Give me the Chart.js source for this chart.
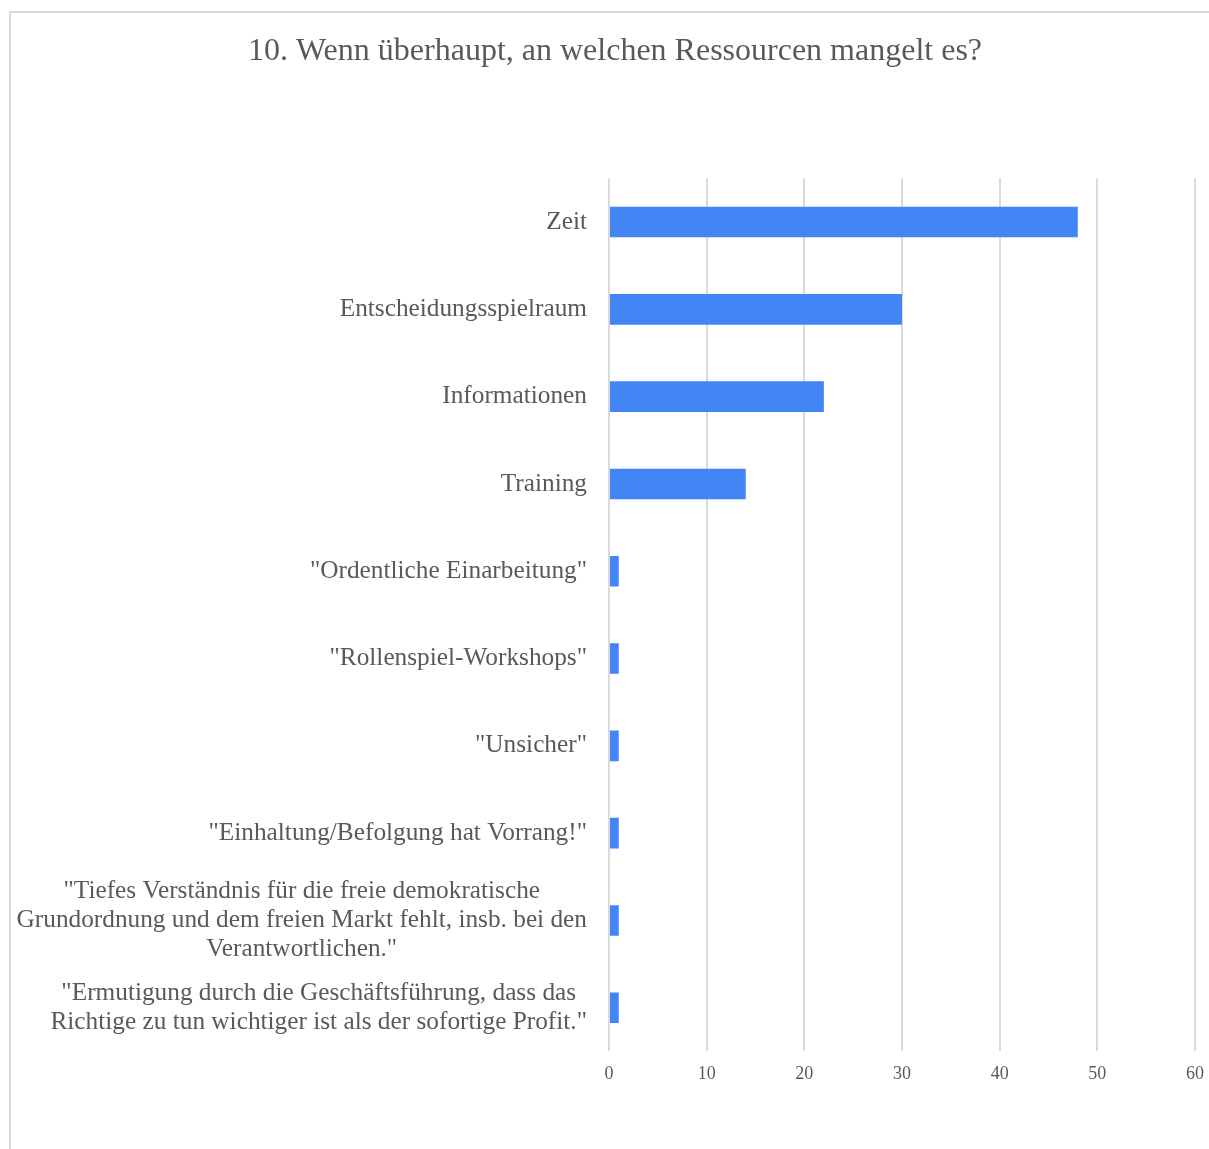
<!DOCTYPE html>
<html lang="de">
<head>
<meta charset="utf-8">
<title>Ressourcen</title>
<script src="https://cdn.jsdelivr.net/npm/chart.js@4/dist/chart.umd.min.js"></script>
<style>
    body { margin: 0; overflow: hidden; background: #fff; }
    #rahmen {
        position: absolute; left: 9px; top: 11px;
        width: 1300px; height: 1300px;
        border: 2px solid #dadada;
    }
    #grafik { position: absolute; left: 0; top: 0; }
</style>
</head>
<body>
<div id="rahmen"></div>
<canvas id="grafik" width="1230" height="1149"></canvas>

<script>
// ============================
// DATEN
// ============================

const titel = "10. Wenn überhaupt, an welchen Ressourcen mangelt es?";

const kategorien = [
    ["Zeit"],
    ["Entscheidungsspielraum"],
    ["Informationen"],
    ["Training"],
    ["\"Ordentliche Einarbeitung\""],
    ["\"Rollenspiel-Workshops\""],
    ["\"Unsicher\""],
    ["\"Einhaltung/Befolgung hat Vorrang!\""],
    ["\"Tiefes Verständnis für die freie demokratische",
     "Grundordnung und dem freien Markt fehlt, insb. bei den",
     "Verantwortlichen.\""],
    ["\"Ermutigung durch die Geschäftsführung, dass das",
     "Richtige zu tun wichtiger ist als der sofortige Profit.\""]
];

const anzahl = [48, 30, 22, 14, 1, 1, 1, 1, 1, 1];

const achseMin = 0;
const achseMax = 60;
const achseSchritt = 10;

const schrift = '"Liberation Serif", "Times New Roman", serif';
const textFarbe = "#595959";


// ============================
// ACHSENBESCHRIFTUNG (mehrzeilig, rechtsbündig als Block)
// ============================

const etikettenPlugin = {
    id: "etiketten",
    afterDraw(chart) {
        const ctx = chart.ctx;
        const skala = chart.scales.y;
        const abstand = 22;
        const zeilenHoehe = 29;

        ctx.save();
        ctx.font = "25.3px " + schrift;
        ctx.fillStyle = textFarbe;
        ctx.textAlign = "center";
        ctx.textBaseline = "middle";

        chart.data.labels.forEach((etikett, i) => {
            const zeilen = Array.isArray(etikett) ? etikett : [etikett];
            const breite = Math.max(...zeilen.map(z => ctx.measureText(z).width));
            const mitteX = skala.right - abstand - breite / 2;
            const mitteY = skala.getPixelForTick(i);

            zeilen.forEach((z, j) => {
                ctx.fillText(z, mitteX, mitteY + (j - (zeilen.length - 1) / 2) * zeilenHoehe);
            });
        });

        ctx.restore();
    }
};


// ============================
// GRAFIK
// ============================

const ctx = document.getElementById("grafik").getContext("2d");

new Chart(ctx, {
    type: "bar",
    data: {
        labels: kategorien,
        datasets: [{
            data: anzahl,
            backgroundColor: "#4285F4",
            borderWidth: 0,
            barPercentage: 0.35,
            categoryPercentage: 1
        }]
    },
    options: {
        indexAxis: "y",
        responsive: false,
        animation: false,
        layout: {
            padding: { left: 35, right: 35, top: 0, bottom: 52 }
        },
        plugins: {
            legend: { display: false },
            tooltip: { enabled: false },
            title: {
                display: true,
                text: titel,
                color: textFarbe,
                font: { family: schrift, size: 32, weight: "normal" },
                padding: { top: 32, bottom: 108 }
            }
        },
        scales: {
            x: {
                min: achseMin,
                max: achseMax,
                ticks: {
                    stepSize: achseSchritt,
                    color: textFarbe,
                    padding: 12,
                    font: { family: schrift, size: 18 }
                },
                grid: {
                    color: "#dadada",
                    lineWidth: 2,
                    drawTicks: false
                },
                border: { display: false }
            },
            y: {
                ticks: { display: false },
                grid: { display: false },
                border: { display: false },
                afterFit(skala) {
                    skala.width = 574;
                }
            }
        }
    },
    plugins: [etikettenPlugin]
});
</script>
</body>
</html>
